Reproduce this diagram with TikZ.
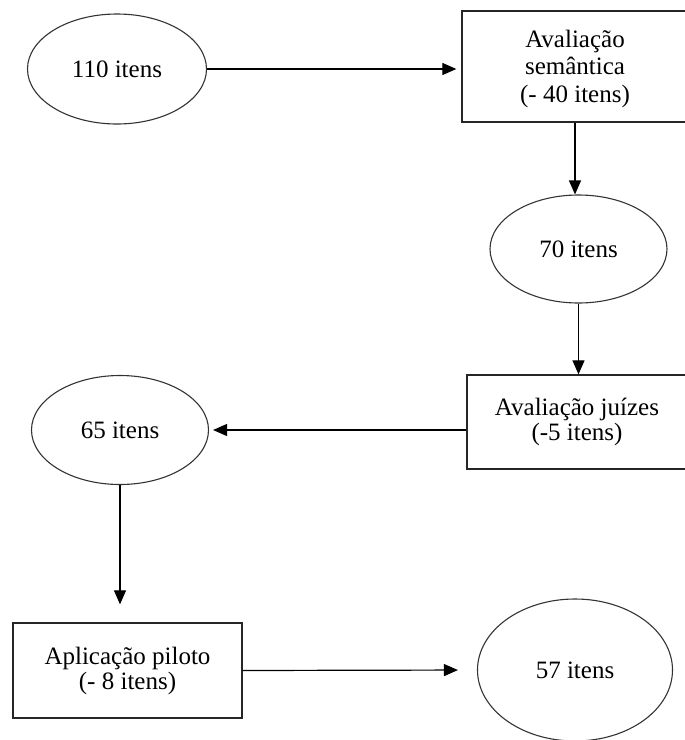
\documentclass[tikz,border=0pt]{standalone}
\usepackage{fontspec}
\setmainfont{Liberation Serif}
\usetikzlibrary{shapes.geometric,arrows.meta}
\begin{document}
\begin{tikzpicture}[x=1pt,y=-1pt,
  every node/.style={font=\fontsize{25}{25}\selectfont, text=black},
  oval/.style={draw=black!80, line width=1.1pt, ellipse, inner sep=0pt, align=center},
  stagebox/.style={draw=black!85, line width=1.3pt, rectangle, inner sep=0pt, align=center},
  arr/.style={draw=black, line width=1.2pt, -{Triangle[length=14pt,width=12pt]}}]
\useasboundingbox (0,0) rectangle (685,740);
\node[oval, minimum width=179pt, minimum height=110pt] (A) at (117,69) {110 itens};
\node[stagebox, minimum width=226pt, minimum height=111pt,
      font=\fontsize{25}{27.5}\selectfont] (B) at (575,66.5)
      {\rule{0pt}{22pt}Avaliação\\semântica\\(- 40 itens)};
\node[oval, minimum width=177pt, minimum height=108pt] (C) at (578.5,249) {70 itens};
\node[stagebox, minimum width=220pt, minimum height=94pt] (D) at (577,422)
      {Avaliação juízes\\(-5 itens)};
\node[oval, minimum width=177pt, minimum height=109pt] (E) at (120,430) {65 itens};
\node[stagebox, minimum width=229pt, minimum height=95pt] (F) at (127.5,670.5)
      {Aplicação piloto\\(- 8 itens)};
\node[oval, minimum width=195pt, minimum height=142pt] (G) at (575,670) {57 itens};
\draw[arr, shorten >=5pt] (A.east) -- (B.west |- A.east);
\draw[arr] (B.south) -- (B.south |- C.north);
\draw[arr] (C.south) -- (C.south |- D.north);
\draw[arr, shorten >=4pt] (D.west |- E.east) -- (E.east);
\draw[arr, shorten >=18pt] (E.south) -- (E.south |- F.north);
\draw[arr, shorten >=19pt] (F.east) -- (G.west);
\end{tikzpicture}
\end{document}
